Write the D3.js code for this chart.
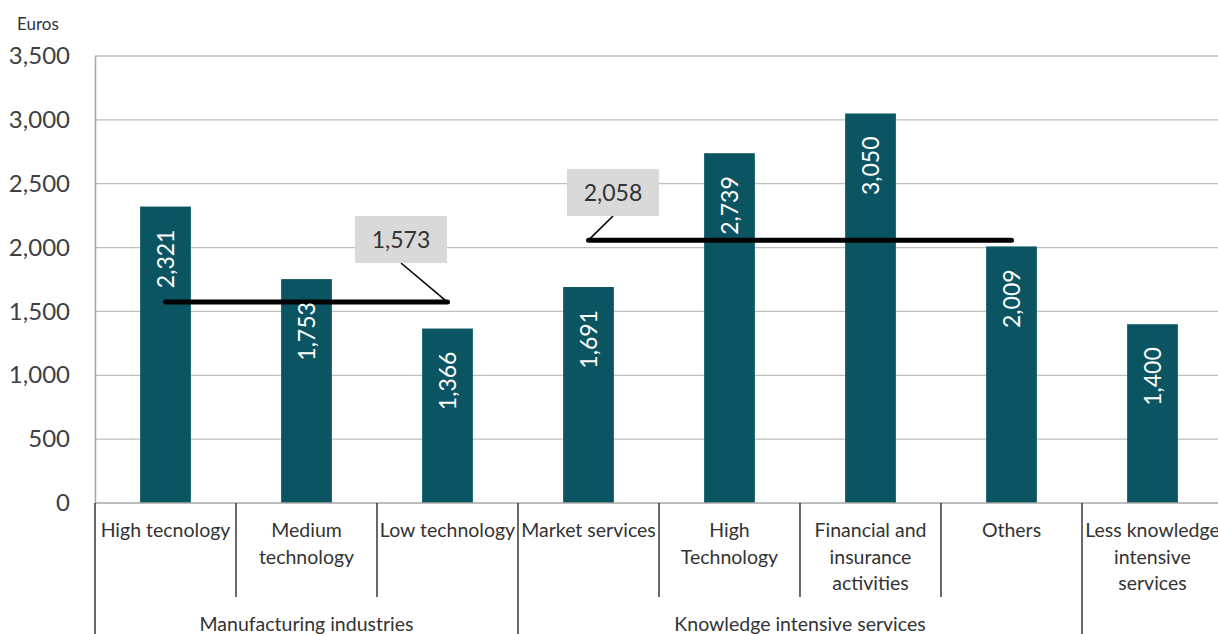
<!DOCTYPE html>
<html><head><meta charset="utf-8">
<script src="https://cdn.jsdelivr.net/npm/d3@7"></script>
<style>body{margin:0;background:#fff}svg{display:block;font-family:Lato,"Open Sans",sans-serif}</style>
</head><body><svg id="c" width="1218" height="634"></svg>
<script>
const categories = ["High tecnology","Medium\ntechnology","Low technology","Market services","High\nTechnology","Financial and\ninsurance\nactivities","Others","Less knowledge\nintensive\nservices"];
const values = [2321,1753,1366,1691,2739,3050,2009,1400];
const groups = ["Manufacturing industries","Knowledge intensive services",""];
const groupSizes = [3,4,1];
const averages = [1573,2058];
const averageSpans = [[0,2],[3,6]];
const yTicks = [0,500,1000,1500,2000,2500,3000,3500];
const yLabel = "Euros";

(function(){
const svg = d3.select("#c");
const pL=95, pR=1223, pT=56, pB=503;
const x = d3.scaleBand().domain(d3.range(categories.length)).range([pL,pR]);
const y = d3.scaleLinear().domain([0,3500]).range([pB,pT]);
const barW = x.bandwidth()*0.36;
const fmt = d3.format(",");
const txt = "#333";

// gridlines
svg.append("g").selectAll("line").data(yTicks.filter(d=>d>0)).join("line")
  .attr("x1",pL).attr("x2",1218).attr("y1",d=>y(d)).attr("y2",d=>y(d))
  .attr("stroke","#bfbfbf").attr("stroke-width",1.3);

// y axis
const ya = svg.append("g").attr("transform",`translate(${pL},0)`)
  .call(d3.axisLeft(y).tickValues(yTicks).tickSize(0).tickPadding(25).tickFormat(fmt));
ya.select(".domain").attr("stroke","#a6a6a6").attr("stroke-width",1.5);
ya.selectAll("text").attr("font-size",24).attr("fill","#404040").attr("font-family","Lato,sans-serif");
svg.append("text").attr("x",17).attr("y",30).attr("font-size",17).attr("fill",txt).text(yLabel);

// bars
svg.append("g").selectAll("rect").data(values).join("rect")
  .attr("x",(d,i)=>x(i)+x.bandwidth()/2-barW/2).attr("width",barW)
  .attr("y",d=>y(d)).attr("height",d=>y(0)-y(d)).attr("fill","#0b5563");

// average lines
const cx = i=>x(i)+x.bandwidth()/2;
svg.append("g").selectAll("line").data(averages).join("line")
  .attr("x1",(d,i)=>cx(averageSpans[i][0])).attr("x2",(d,i)=>cx(averageSpans[i][1]))
  .attr("y1",d=>y(d)).attr("y2",d=>y(d))
  .attr("stroke","#000").attr("stroke-width",5).attr("stroke-linecap","round");

// value labels
svg.append("g").selectAll("text").data(values).join("text")
  .attr("transform",(d,i)=>`translate(${x(i)+x.bandwidth()/2+8},${y(d)+23}) rotate(-90)`)
  .attr("text-anchor","end").attr("font-size",23).attr("fill","#fff").text(d=>fmt(d));

// baseline
svg.append("line").attr("x1",pL).attr("x2",1218).attr("y1",pB).attr("y2",pB)
  .attr("stroke","#a6a6a6").attr("stroke-width",1.5);

// category separators
const sepG = svg.append("g");
let bounds=[0]; groupSizes.reduce((a,b)=>{bounds.push(a+b);return a+b;},0);
for(let i=0;i<=categories.length;i++){
  const xx = i<categories.length? x(i) : pR;
  const full = bounds.includes(i);
  sepG.append("line").attr("x1",xx).attr("x2",xx).attr("y1",pB).attr("y2",full?634:597)
    .attr("stroke","#1a1a1a").attr("stroke-width",1.3);
}
// category labels
svg.append("g").selectAll("text").data(categories).join("text")
  .attr("x",(d,i)=>x(i)+x.bandwidth()/2).attr("y",537).attr("text-anchor","middle")
  .attr("font-size",19.5).attr("fill",txt)
  .each(function(d){
    const t=d3.select(this);
    d.split("\n").forEach((l,k)=>t.append("tspan").attr("x",t.attr("x")).attr("dy",k?26.5:0).text(l));
  });
// group labels
svg.append("g").selectAll("text").data(groups).join("text")
  .attr("x",(d,i)=>{const s=bounds[i],e=bounds[i+1];return (x(s)+(e<categories.length?x(e):pR))/2;})
  .attr("y",631).attr("text-anchor","middle").attr("font-size",19.5).attr("fill",txt).text(d=>d);

// callouts
const boxes = [{bx:355,by:216,lx:401,ex:cx(averageSpans[0][1])},{bx:567,by:169,lx:613,ex:cx(averageSpans[1][0])}];
averages.forEach((a,i)=>{
  const b=boxes[i];
  svg.append("line").attr("x1",b.lx).attr("y1",b.by+47).attr("x2",b.ex).attr("y2",y(a))
    .attr("stroke","#000").attr("stroke-width",1.6);
  svg.append("rect").attr("x",b.bx).attr("y",b.by).attr("width",92).attr("height",47).attr("fill","#d9d9d9");
  svg.append("text").attr("x",b.bx+46).attr("y",b.by+32).attr("text-anchor","middle")
    .attr("font-size",23).attr("fill",txt).text(fmt(a));
});
})();
</script></body></html>
